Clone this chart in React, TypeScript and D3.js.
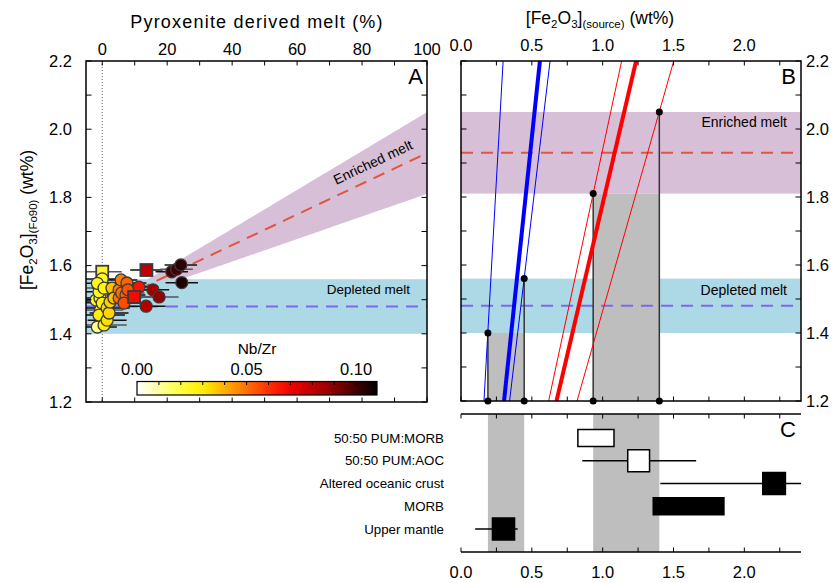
import React from "react";
import * as d3 from "d3";

// ---------- Panel A data ----------
const pyxPct = [0, -1.5, 0.0, 0.55, -1.0, -0.7, 0.0, 1.5, 2.1, -0.5, -1.0, 1.5, 0.55, -1.5, 3.0, 3.6, 2.4, -1.9,
  5.2, 5.8, 7.6, 5.2, 7.3, 6.7, 6.0, 7.9,
  11.3, 9.8, 13.5, 15.6, 17.5, 13.6,
  21.4, 22.9, 24.2, 24.5];
const fe2o3Melt = [1.582, 1.548, 1.561, 1.534, 1.523, 1.505, 1.49, 1.476, 1.461, 1.47, 1.455, 1.44, 1.426, 1.42, 1.534, 1.505, 1.493, 1.499,
  1.529, 1.558, 1.549, 1.505, 1.514, 1.49, 1.52, 1.529,
  1.537, 1.508, 1.481, 1.529, 1.508, 1.587,
  1.582, 1.589, 1.602, 1.55];
const nbZr = [0.024, 0.026, 0.024, 0.027, 0.025, 0.024, 0.028, 0.034, 0.034, 0.025, 0.029, 0.032, 0.029, 0.012, 0.037, 0.037, 0.035, 0.022,
  0.048, 0.048, 0.052, 0.05, 0.052, 0.056, 0.05, 0.055,
  0.066, 0.068, 0.082, 0.085, 0.088, 0.08,
  0.1, 0.1, 0.103, 0.105];
const shapes = ["s", "c", "c", "c", "c", "c", "c", "c", "c", "c", "c", "c", "c", "c", "c", "c", "c", "c",
  "c", "c", "c", "c", "c", "c", "c", "c",
  "c", "s", "c", "c", "c", "s",
  "c", "c", "c", "c"];
const errPct = [6, 7, 6, 8, 7, 6, 8, 7, 6, 7, 8, 6, 7, 6, 6, 7, 8, 7,
  6, 5, 6, 7, 6, 5, 7, 6,
  6, 7, 6, 5, 6, 5,
  5, 5, 5, 5];

const depletedMean = 1.48;
const depletedBand = [1.40, 1.56];
const enrichedMean = 1.93;
const enrichedBand = [1.81, 2.05];

const nbZrStops = [0, 0.01, 0.02, 0.03, 0.04, 0.05, 0.06, 0.07, 0.08, 0.09, 0.1, 0.1095];
const nbZrColors = ["#ffffff", "#ffffa0", "#ffff40", "#ffee00", "#ffb000", "#ff7000", "#ff3000", "#f00000", "#c00000", "#880000", "#400000", "#000000"];
const cbTicks = [0, 0.05, 0.1];

// ---------- Panel B data ----------
const blueK = [7.4, 3.95, 3.5];
const blueW = [1, 4, 1];
const redK = [1.94, 1.78, 1.465];
const redW = [1, 4, 1];
const dotSrc = [0.19, 0.446, 0.933, 1.4];
const dotMelt = [1.40, 1.56, 1.81, 2.05];
const grayLo = [0.19, 0.933];
const grayHi = [0.446, 1.4];
const grayTop = [1.40, 1.81];

// ---------- Panel C data ----------
const cLabels = ["50:50 PUM:MORB", "50:50 PUM:AOC", "Altered oceanic crust", "MORB", "Upper mantle"];
const cLow = [0.825, 1.177, 2.13, 1.357, 0.222];
const cHigh = [1.08, 1.331, 2.29, 1.856, 0.378];
const cErrLow = [NaN, 0.856, 1.407, NaN, 0.1];
const cErrHigh = [NaN, 1.66, 2.5, NaN, 0.4];
const cFilled = [false, false, true, true, true];
const cKind = ["range", "point", "point", "range", "point"];

const FONT = "'Liberation Sans', Arial, Helvetica, sans-serif";
const TICKFS = 16.5;

export default function App() {
  const xA = d3.scaleLinear([-5, 100], [86, 427]);
  const yA = d3.scaleLinear([1.2, 2.2], [402, 61]);
  const xB = d3.scaleLinear([0, 2.4], [461, 801]);
  const yB = d3.scaleLinear([1.2, 2.2], [401, 61]);
  const yC = d3.scalePoint(cLabels, [438, 529]);
  const cTop = 414, cBot = 552;
  const color = d3.scaleLinear<string>().domain(nbZrStops).range(nbZrColors).clamp(true);
  const cb = d3.scaleLinear([0, 0.1095], [137, 377]);

  const yTicks = d3.range(12, 22.01, 1).map(v => v / 10);
  const yLabels = d3.range(12, 22.01, 2).map(v => v / 10);
  const xATicks = d3.range(0, 101, 10);
  const xALabels = d3.range(0, 101, 20);
  const xBTicks = d3.range(0, 2.41, 0.25);
  const xBLabels = [0, 0.5, 1.0, 1.5, 2.0];

  const wedgeArea = d3.area<number>()
    .x(d => xA(d))
    .y0(d => yA(depletedMean + (enrichedBand[0] - depletedMean) * d / 100))
    .y1(d => yA(depletedMean + (enrichedBand[1] - depletedMean) * d / 100));
  const mixLine = d3.line<number>()
    .x(d => xA(d))
    .y(d => yA(depletedMean + (enrichedMean - depletedMean) * d / 100));

  const order = d3.range(pyxPct.length).sort((a, b) => nbZr[a] - nbZr[b]);
  const angle = Math.atan2(yA(enrichedMean) - yA(depletedMean), xA(100) - xA(0)) * 180 / Math.PI;
  const tl = 4.5;

  const sub = (t: string) => <tspan fontSize="11.5" dy="4">{t}</tspan>;

  return (
    <svg width={834} height={583} style={{ position: "absolute", left: 0, top: 0, fontFamily: FONT }}>
      <defs>
        <clipPath id="clipA"><rect x={86} y={61} width={341} height={341} /></clipPath>
        <clipPath id="clipB"><rect x={461} y={61} width={340} height={340} /></clipPath>
        <clipPath id="clipC"><rect x={461} y={cTop} width={340} height={cBot - cTop} /></clipPath>
        <linearGradient id="cbGrad" x1="0" x2="1" y1="0" y2="0">
          {nbZrStops.map((s, i) => (
            <stop key={i} offset={s / 0.1095} stopColor={nbZrColors[i]} />
          ))}
        </linearGradient>
      </defs>
      <rect width={834} height={583} fill="#fff" />

      {/* ================= Panel A ================= */}
      <g clipPath="url(#clipA)">
        <path d={wedgeArea(d3.range(0, 101, 1)) || ""} fill="rgb(216,191,216)" />
        <rect x={86} y={yA(depletedBand[1])} width={341} height={yA(depletedBand[0]) - yA(depletedBand[1])} fill="rgb(173,216,230)" />
        <line x1={86} x2={427} y1={yA(depletedMean)} y2={yA(depletedMean)} stroke="rgb(123,104,238)" strokeWidth={2} strokeDasharray="12,8" />
        <path d={mixLine([0, 100]) || ""} stroke="rgb(225,85,60)" strokeWidth={2} fill="none" strokeDasharray="12,8" />
        <line x1={xA(0)} x2={xA(0)} y1={61} y2={402} stroke="#666" strokeWidth={1} strokeDasharray="1,2" />
        {order.map(i => (
          <line key={"e" + i} x1={xA(pyxPct[i] - errPct[i])} x2={xA(pyxPct[i] + errPct[i])}
            y1={yA(fe2o3Melt[i])} y2={yA(fe2o3Melt[i])} stroke={i % 3 === 0 ? "#555" : "#111"} strokeWidth={1.5} />
        ))}
        {order.map(i => shapes[i] === "s" ? (
          <rect key={"p" + i} x={xA(pyxPct[i]) - 6} y={yA(fe2o3Melt[i]) - 6} width={12} height={12}
            fill={color(nbZr[i])} stroke="#3a3a3a" strokeWidth={1.8} />
        ) : (
          <circle key={"p" + i} cx={xA(pyxPct[i])} cy={yA(fe2o3Melt[i])} r={6}
            fill={color(nbZr[i])} stroke="#3a3a3a" strokeWidth={1.3} />
        ))}
      </g>
      <text x={410} y={294} fontSize={13.5} textAnchor="end">Depleted melt</text>
      <text transform={`translate(${xA(84)},${yA(depletedMean + (enrichedMean - depletedMean) * 0.84) - 11}) rotate(${angle})`}
        fontSize={14} textAnchor="middle">Enriched melt</text>
      <rect x={86} y={61} width={341} height={341} fill="none" stroke="#000" strokeWidth={1.5} />
      {yTicks.map(v => (
        <g key={"ya" + v}>
          <line x1={86} x2={86 + tl + 1} y1={yA(v)} y2={yA(v)} stroke="#000" />
          <line x1={427} x2={427 - tl - 1} y1={yA(v)} y2={yA(v)} stroke="#000" />
        </g>
      ))}
      {xATicks.map(v => (
        <g key={"xa" + v}>
          <line x1={xA(v)} x2={xA(v)} y1={61} y2={61 + tl} stroke="#000" />
          <line x1={xA(v)} x2={xA(v)} y1={402} y2={402 - tl} stroke="#000" />
        </g>
      ))}
      {yLabels.map(v => (
        <text key={"yla" + v} x={72} y={yA(v)} dy="0.35em" fontSize={TICKFS} textAnchor="end">{v.toFixed(1)}</text>
      ))}
      {xALabels.map(v => (
        <text key={"xla" + v} x={xA(v)} y={55} fontSize={TICKFS} textAnchor="middle">{v}</text>
      ))}
      <text x={257} y={28} fontSize={18} letterSpacing={1.2} textAnchor="middle">Pyroxenite derived melt (%)</text>
      <text transform="translate(33,220) rotate(-90)" fontSize={17.5} textAnchor="middle">
        [Fe{sub("2")}<tspan dy="-4">O</tspan>{sub("3")}<tspan dy="-4">]</tspan>{sub("(Fo90)")}<tspan dy="-4"> (wt%)</tspan>
      </text>
      <text x={423} y={84} fontSize={22} textAnchor="end">A</text>

      {/* colorbar */}
      <rect x={cb(0)} y={381.5} width={cb(0.1095) - cb(0)} height={13.5} fill="url(#cbGrad)" stroke="#000" strokeWidth={1.2} />
      {d3.range(1, 11).map(k => (
        <line key={"cbt" + k} x1={cb(k / 100)} x2={cb(k / 100)} y1={381.5} y2={385} stroke="#000" />
      ))}
      {cbTicks.map(v => (
        <text key={"cbl" + v} x={cb(v)} y={375} fontSize={TICKFS} textAnchor="middle">{v.toFixed(2)}</text>
      ))}
      <text x={257} y={354} fontSize={15.5} textAnchor="middle">Nb/Zr</text>

      {/* ================= Panel B ================= */}
      <g clipPath="url(#clipB)">
        <rect x={461} y={yB(enrichedBand[1])} width={340} height={yB(enrichedBand[0]) - yB(enrichedBand[1])} fill="rgb(216,191,216)" />
        <rect x={461} y={yB(depletedBand[1])} width={340} height={yB(depletedBand[0]) - yB(depletedBand[1])} fill="rgb(173,216,230)" />
        {grayLo.map((lo, i) => (
          <rect key={"g" + i} x={xB(lo)} y={yB(grayTop[i])} width={xB(grayHi[i]) - xB(lo)} height={yB(1.2) - yB(grayTop[i])} fill="rgb(190,190,190)" />
        ))}
        <line x1={461} x2={801} y1={yB(enrichedMean)} y2={yB(enrichedMean)} stroke="rgb(225,85,60)" strokeWidth={2} strokeDasharray="12,8" />
        <line x1={461} x2={801} y1={yB(depletedMean)} y2={yB(depletedMean)} stroke="rgb(123,104,238)" strokeWidth={2} strokeDasharray="12,8" />
        {dotSrc.map((s, i) => (
          <line key={"v" + i} x1={xB(s)} x2={xB(s)} y1={yB(dotMelt[i])} y2={yB(1.2)} stroke="#333" strokeWidth={1.5} />
        ))}
        {blueK.map((k, i) => (
          <line key={"bl" + i} x1={xB(1.2 / k)} x2={xB(2.2 / k)} y1={yB(1.2)} y2={yB(2.2)} stroke="#0000ff" strokeWidth={blueW[i]} />
        ))}
        {redK.map((k, i) => (
          <line key={"rl" + i} x1={xB(1.2 / k)} x2={xB(2.2 / k)} y1={yB(1.2)} y2={yB(2.2)} stroke="#ff0000" strokeWidth={redW[i]} />
        ))}
      </g>
      {dotSrc.map((s, i) => (
        <g key={"d" + i}>
          <circle cx={xB(s)} cy={yB(dotMelt[i])} r={3.5} fill="#000" />
          <circle cx={xB(s)} cy={yB(1.2)} r={3.5} fill="#000" />
        </g>
      ))}
      <text x={787} y={127} fontSize={14} textAnchor="end">Enriched melt</text>
      <text x={787} y={295} fontSize={14} textAnchor="end">Depleted melt</text>
      <rect x={461} y={61} width={340} height={340} fill="none" stroke="#000" strokeWidth={1.5} />
      {yTicks.map(v => (
        <g key={"yb" + v}>
          <line x1={461} x2={461 + tl + 1} y1={yB(v)} y2={yB(v)} stroke="#000" />
          <line x1={801} x2={801 - tl - 1} y1={yB(v)} y2={yB(v)} stroke="#000" />
        </g>
      ))}
      {xBTicks.map(v => (
        <g key={"xb" + v}>
          <line x1={xB(v)} x2={xB(v)} y1={61} y2={61 + tl} stroke="#000" />
          <line x1={xB(v)} x2={xB(v)} y1={401} y2={401 - tl} stroke="#000" />
        </g>
      ))}
      {yLabels.map(v => (
        <text key={"ylb" + v} x={806} y={yB(v)} dy="0.35em" fontSize={TICKFS} textAnchor="start">{v.toFixed(1)}</text>
      ))}
      {xBLabels.map(v => (
        <text key={"xlb" + v} x={xB(v)} y={51} fontSize={TICKFS} textAnchor="middle">{v.toFixed(1)}</text>
      ))}
      <text x={600} y={24} fontSize={17.5} textAnchor="middle">
        [Fe{sub("2")}<tspan dy="-4">O</tspan>{sub("3")}<tspan dy="-4">]</tspan>{sub("(source)")}<tspan dy="-4"> (wt%)</tspan>
      </text>
      <text x={796} y={84} fontSize={22} textAnchor="end">B</text>

      {/* ================= Panel C ================= */}
      <g clipPath="url(#clipC)">
        {grayLo.map((lo, i) => (
          <rect key={"gc" + i} x={xB(lo)} y={cTop} width={xB(grayHi[i]) - xB(lo)} height={cBot - cTop} fill="rgb(190,190,190)" />
        ))}
        {cLabels.map((l, i) => {
          const cy = yC(l) as number;
          const w = xB(cHigh[i]) - xB(cLow[i]);
          const h = cKind[i] === "range" ? 17 : 22;
          return (
            <g key={"c" + i}>
              {!isNaN(cErrLow[i]) && (
                <line x1={xB(cErrLow[i])} x2={xB(cErrHigh[i])} y1={cy} y2={cy} stroke="#000" strokeWidth={1.5} />
              )}
              <rect x={xB(cLow[i])} y={cy - h / 2} width={w} height={h}
                fill={cFilled[i] ? "#000" : "#fff"} stroke="#000" strokeWidth={1.5} />
            </g>
          );
        })}
      </g>
      {cLabels.map(l => (
        <text key={"cl" + l} x={444} y={yC(l) as number} dy="0.35em" fontSize={13.3} textAnchor="end">{l}</text>
      ))}
      <line x1={461} x2={801} y1={cTop} y2={cTop} stroke="#000" strokeWidth={1.5} />
      <line x1={461} x2={801} y1={cBot} y2={cBot} stroke="#000" strokeWidth={1.5} />
      {xBTicks.map(v => (
        <g key={"xc" + v}>
          <line x1={xB(v)} x2={xB(v)} y1={cTop} y2={cTop + tl} stroke="#000" />
          <line x1={xB(v)} x2={xB(v)} y1={cBot} y2={cBot - tl} stroke="#000" />
        </g>
      ))}
      {xBLabels.map(v => (
        <text key={"xlc" + v} x={xB(v)} y={578} fontSize={TICKFS} textAnchor="middle">{v.toFixed(1)}</text>
      ))}
      <text x={796} y={437} fontSize={22} textAnchor="end">C</text>
    </svg>
  );
}
